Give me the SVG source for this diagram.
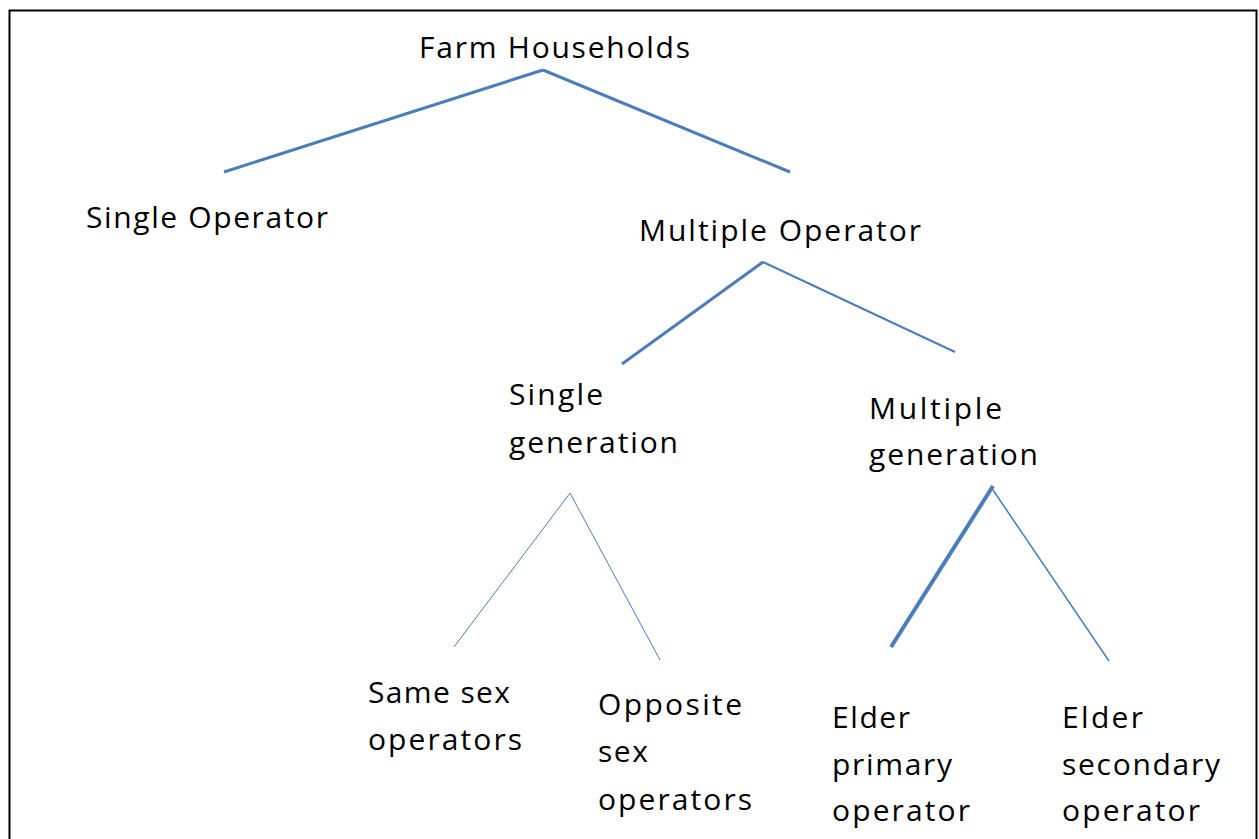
<svg xmlns="http://www.w3.org/2000/svg" width="1259" height="839" viewBox="0 0 1259 839">
<style>
text{font-family:"Open Sans","Liberation Sans",sans-serif;font-size:30px;fill:#000}
.c{stroke:#4a7ebb;fill:none;stroke-linecap:butt}
</style>
<rect x="0" y="0" width="1259" height="839" fill="#fff"/>
<rect x="9.5" y="10.5" width="1247" height="840" fill="none" stroke="#000" stroke-width="2"/>
<g id="connectors">
<line class="c" x1="543" y1="70" x2="224" y2="172" stroke-width="3"/>
<line class="c" x1="543" y1="70" x2="790" y2="172" stroke-width="3"/>
<line class="c" x1="763" y1="262" x2="622" y2="364" stroke-width="3"/>
<line class="c" x1="763" y1="262" x2="955" y2="352" stroke-width="2"/>
<line class="c" x1="570" y1="493" x2="454" y2="647" stroke-width="1"/>
<line class="c" x1="570" y1="493" x2="660" y2="660" stroke-width="1"/>
<line class="c" x1="993" y1="486" x2="891" y2="647" stroke-width="4"/>
<line class="c" x1="993" y1="490" x2="1109" y2="661" stroke-width="1.5"/>
</g>
<g id="farm"><text x="419" y="58" textLength="271" lengthAdjust="spacing">Farm Households</text></g>
<g id="single-op"><text x="86" y="228" textLength="242" lengthAdjust="spacing">Single Operator</text></g>
<g id="multi-op"><text x="639" y="241" textLength="282" lengthAdjust="spacing">Multiple Operator</text></g>
<g id="single-gen">
<text x="509" y="405" textLength="94" lengthAdjust="spacing">Single</text>
<text x="509" y="453" textLength="169" lengthAdjust="spacing">generation</text>
</g>
<g id="multi-gen">
<text x="869" y="419" textLength="133" lengthAdjust="spacing">Multiple</text>
<text x="869" y="465" textLength="169" lengthAdjust="spacing">generation</text>
</g>
<g id="same-sex">
<text x="368" y="703" textLength="142" lengthAdjust="spacing">Same sex</text>
<text x="368" y="750" textLength="154" lengthAdjust="spacing">operators</text>
</g>
<g id="opposite-sex">
<text x="598" y="715" textLength="144" lengthAdjust="spacing">Opposite</text>
<text x="598" y="762" textLength="50" lengthAdjust="spacing">sex</text>
<text x="598" y="810" textLength="154" lengthAdjust="spacing">operators</text>
</g>
<g id="elder-primary">
<text x="832" y="728" textLength="78" lengthAdjust="spacing">Elder</text>
<text x="832" y="775" textLength="120" lengthAdjust="spacing">primary</text>
<text x="832" y="821" textLength="138" lengthAdjust="spacing">operator</text>
</g>
<g id="elder-secondary">
<text x="1062" y="728" textLength="81" lengthAdjust="spacing">Elder</text>
<text x="1062" y="775" textLength="158" lengthAdjust="spacing">secondary</text>
<text x="1062" y="821" textLength="138" lengthAdjust="spacing">operator</text>
</g>
</svg>
